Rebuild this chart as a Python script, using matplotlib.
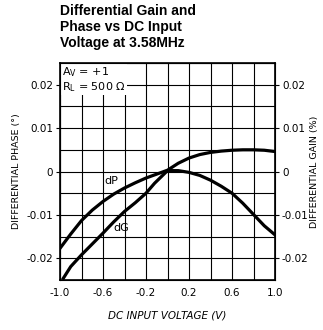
import matplotlib
matplotlib.use('Agg')
import matplotlib.pyplot as plt
import numpy as np

# curves
dp_v = [-1.0, -0.9, -0.8, -0.7, -0.6, -0.5, -0.4, -0.3, -0.2, -0.1, 0.0,
        0.1, 0.2, 0.3, 0.4, 0.5, 0.6, 0.7, 0.8, 0.9, 1.0]
dp_y = [-0.0177, -0.0144, -0.0113, -0.0089, -0.0069, -0.0052, -0.0038, -0.0026, -0.0015, -0.0006, 0.0003,
        0.0019, 0.0031, 0.0039, 0.0044, 0.0047, 0.0049, 0.0050, 0.0050, 0.0049, 0.0046]

dg_v = [-0.969, -0.9, -0.8, -0.7, -0.6, -0.5, -0.4, -0.3, -0.2, -0.12, 0.0,
        0.1, 0.2, 0.3, 0.4, 0.5, 0.6, 0.7, 0.8, 0.9, 1.0]
dg_y = [-0.0246, -0.0219, -0.0192, -0.0167, -0.0142, -0.0116, -0.0092, -0.0072, -0.0050, -0.0027, 0.0002,
        0.0002, -0.0002, -0.0009, -0.0020, -0.0034, -0.0050, -0.0073, -0.0099, -0.0125, -0.0146]

xticks = [-1.0, -0.6, -0.2, 0.2, 0.6, 1.0]
yticks = [-0.02, -0.01, 0, 0.01, 0.02]
ylabels = ['-0.02', '-0.01', '0', '0.01', '0.02']

plt.rcParams['font.family'] = ['DejaVu Sans']

fig = plt.figure(figsize=(3.23, 3.30), dpi=100)
ax = fig.add_axes([0.1858, 0.1515, 0.6656, 0.6576])

ax.set_xlim(-1.0, 1.0)
ax.set_ylim(-0.025, 0.025)
ax.set_xticks(xticks)
ax.set_xticklabels(['%.1f' % t for t in xticks], fontsize=7.5)
ax.set_xticks(np.arange(-1.0, 1.01, 0.2), minor=True)
ax.set_yticks(yticks)
ax.set_yticklabels(ylabels, fontsize=7.5)
ax.set_yticks(np.arange(-0.025, 0.0251, 0.005), minor=True)
ax.tick_params(axis='x', which='both', length=0, pad=6)
ax.tick_params(axis='y', which='major', length=3, width=0.8, pad=2)
ax.tick_params(axis='y', which='minor', length=0)
ax.grid(True, which='both', color='black', linewidth=0.8)
for s in ax.spines.values():
    s.set_linewidth(1.2)

ax.plot(dp_v, dp_y, color='black', linewidth=2.3, solid_joinstyle='round', zorder=3)
ax.plot(dg_v, dg_y, color='black', linewidth=2.3, solid_joinstyle='round', zorder=3)

ax.text(-0.52, -0.0023, 'dP', fontsize=8, ha='center', va='center', zorder=4)
ax.text(-0.43, -0.013, 'dG', fontsize=8, ha='center', va='center', zorder=4)

ax.text(-0.98, 0.0245, '$\\mathregular{A_V}$ = +1\n$\\mathregular{R_L}$ = 500 Ω', fontsize=8,
        ha='left', va='top', linespacing=1.1, zorder=5,
        bbox=dict(facecolor='white', edgecolor='none', pad=1.0))

ax2 = ax.twinx()
ax2.set_ylim(-0.025, 0.025)
ax2.set_yticks(yticks)
ax2.set_yticklabels(ylabels, fontsize=7.5)
ax2.tick_params(axis='y', length=3, width=0.8, pad=2)

ax.set_ylabel('DIFFERENTIAL PHASE (°)', fontsize=6.8, labelpad=4)
ax2.set_ylabel('DIFFERENTIAL GAIN (%)', fontsize=6.8, labelpad=1)
ax.set_xlabel('DC INPUT VOLTAGE (V)', fontsize=7.5, style='italic', labelpad=9)

fig.text(0.186, 0.988, 'Differential Gain and\nPhase vs DC Input\nVoltage at 3.58MHz',
         fontsize=10, fontweight='bold', ha='left', va='top', linespacing=1.2,
         family=['Liberation Sans', 'DejaVu Sans'])

fig.savefig('out.png', dpi=100, facecolor='white')
